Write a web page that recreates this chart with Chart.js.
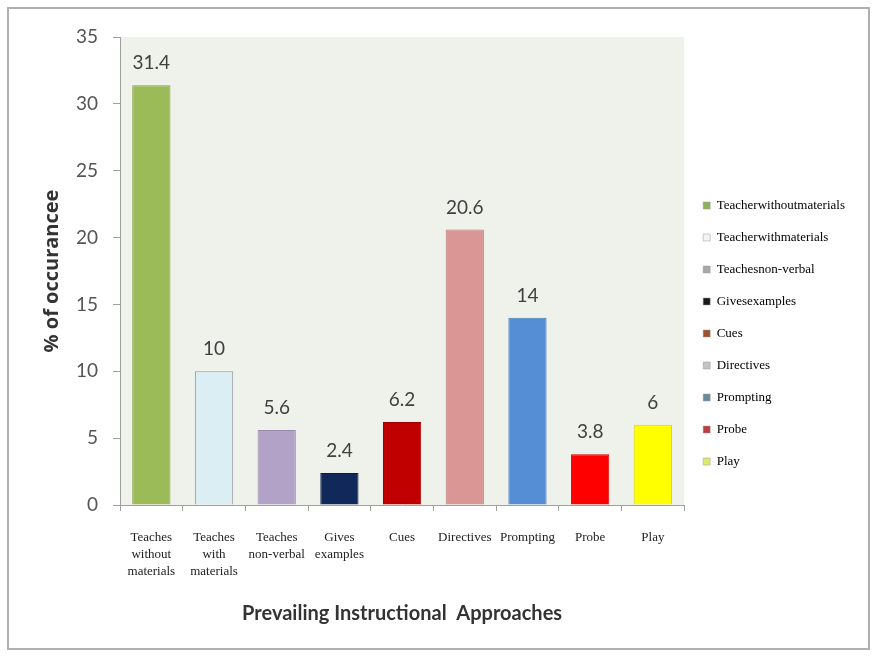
<!DOCTYPE html>
<html>
<head>
<meta charset="utf-8">
<script src="https://cdn.jsdelivr.net/npm/chart.js@4.4.1/dist/chart.umd.min.js"></script>
<style>
  body{ margin:0; background:#fff; }
  #frame{ position:absolute; left:7px; top:7px; width:859px; height:639px; border:2px solid #b0b0b0; background:#fff; }
  #c{ display:block; }
</style>
</head>
<body>
<div id="frame"><canvas id="c" width="859" height="639"></canvas></div>
<script>
// data
const categories = [
  ['Teaches','without','materials'],
  ['Teaches','with','materials'],
  ['Teaches','non-verbal'],
  ['Gives','examples'],
  'Cues','Directives','Prompting','Probe','Play'
];
const values = [31.4, 10, 5.6, 2.4, 6.2, 20.6, 14, 3.8, 6];
const legendNames = ['Teacherwithoutmaterials','Teacherwithmaterials','Teachesnon-verbal','Givesexamples','Cues','Directives','Prompting','Probe','Play'];
const yTicks = [0, 5, 10, 15, 20, 25, 30, 35];

const barColors = ['#9bbb59','#dbeef4','#b3a2c7','#10295a','#c00000','#d99694','#558ed5','#ff0000','#ffff00'];
const barBorders = ['#87a548','#9a9a9a','#9a8ab0','#0a1c40','#a00000','#c07c7a','#4a7cbf','#d40000','#d6d600'];
const legendColors = ['#8fb05a','#f4f4f4','#a8a8a8','#1a1a1a','#a0522d','#c4c4c4','#6a8a9a','#b84040','#dcea70'];

const legendFont = { family:'"Liberation Serif", "DejaVu Serif", serif', size:13 };

// leave just enough room on the right for the legend to start where the reference's does
const mctx = document.createElement('canvas').getContext('2d');
mctx.font = legendFont.size + 'px ' + legendFont.family;
const maxText = Math.max(...legendNames.map(t => mctx.measureText(t).width));
const legendW = Math.ceil(19 + 7 + legendFont.size / 2 + maxText + 10) + 1;
const padRight = Math.max(0, 859 - 674 - legendW);

const plotBg = {
  id:'plotBg',
  beforeDraw(chart){
    const {ctx, chartArea:a} = chart;
    ctx.save();
    ctx.fillStyle = '#eef2ea';
    ctx.fillRect(a.left, a.top, a.right - a.left, a.bottom - a.top);
    ctx.restore();
  }
};

const valueLabels = {
  id:'valueLabels',
  afterDatasetsDraw(chart){
    const {ctx} = chart;
    const meta = chart.getDatasetMeta(0);
    ctx.save();
    ctx.font = '19px Lato, "Open Sans", sans-serif';
    ctx.fillStyle = '#404040';
    ctx.textAlign = 'center';
    ctx.textBaseline = 'alphabetic';
    meta.data.forEach((bar, i) => {
      ctx.fillText(String(values[i]), bar.x, bar.y - 16);
    });
    ctx.restore();
  }
};

new Chart(document.getElementById('c'), {
  type:'bar',
  data:{
    labels: categories,
    datasets:[{
      label:'% of occurancee',
      data: values,
      backgroundColor: barColors,
      borderColor: barBorders,
      borderWidth: 1,
      categoryPercentage: 1,
      barPercentage: 0.61
    }]
  },
  options:{
    responsive:false,
    animation:false,
    layout:{ padding:{ top:28, left:27, bottom:18, right:padRight } },
    plugins:{
      tooltip:{ enabled:false },
      legend:{
        position:'right',
        labels:{
          font: legendFont,
          color:'#333',
          boxWidth:7,
          boxHeight:7,
          padding:19,
          generateLabels: () => legendNames.map((t, i) => ({
            text: t, fillStyle: legendColors[i], strokeStyle: '#999', lineWidth: 0.5,
            hidden:false, index:i, datasetIndex:0
          }))
        }
      }
    },
    scales:{
      x:{
        grid:{ drawOnChartArea:false, offset:true, tickLength:6, color:'#a0a0a0' },
        border:{ color:'#a0a0a0' },
        ticks:{
          color:'#222',
          padding:18,
          maxRotation:0,
          autoSkip:false,
          font:{ family:'"Liberation Serif", "DejaVu Serif", serif', size:13, lineHeight:1.3 }
        },
        title:{
          display:true,
          text:'Prevailing Instructional  Approaches',
          color:'#333',
          font:{ family:'Lato, sans-serif', size:20, weight:'bold', lineHeight:1.2 }
        },
        afterFit: s => { s.height = 125; }
      },
      y:{
        min:0, max:35,
        afterBuildTicks: s => { s.ticks = yTicks.map(v => ({ value:v })); },
        grid:{ drawOnChartArea:false, tickLength:7, color:'#a0a0a0' },
        border:{ color:'#a0a0a0' },
        ticks:{
          color:'#555',
          padding:15,
          font:{ family:'Lato, "Open Sans", sans-serif', size:19 }
        },
        title:{
          display:true,
          text:'% of occurancee',
          color:'#333',
          font:{ family:'"Open Sans", sans-serif', size:20, weight:'bold', lineHeight:1.2 }
        },
        afterFit: s => { s.width = 84; }
      }
    }
  },
  plugins:[plotBg, valueLabels]
});
</script>
</body>
</html>
